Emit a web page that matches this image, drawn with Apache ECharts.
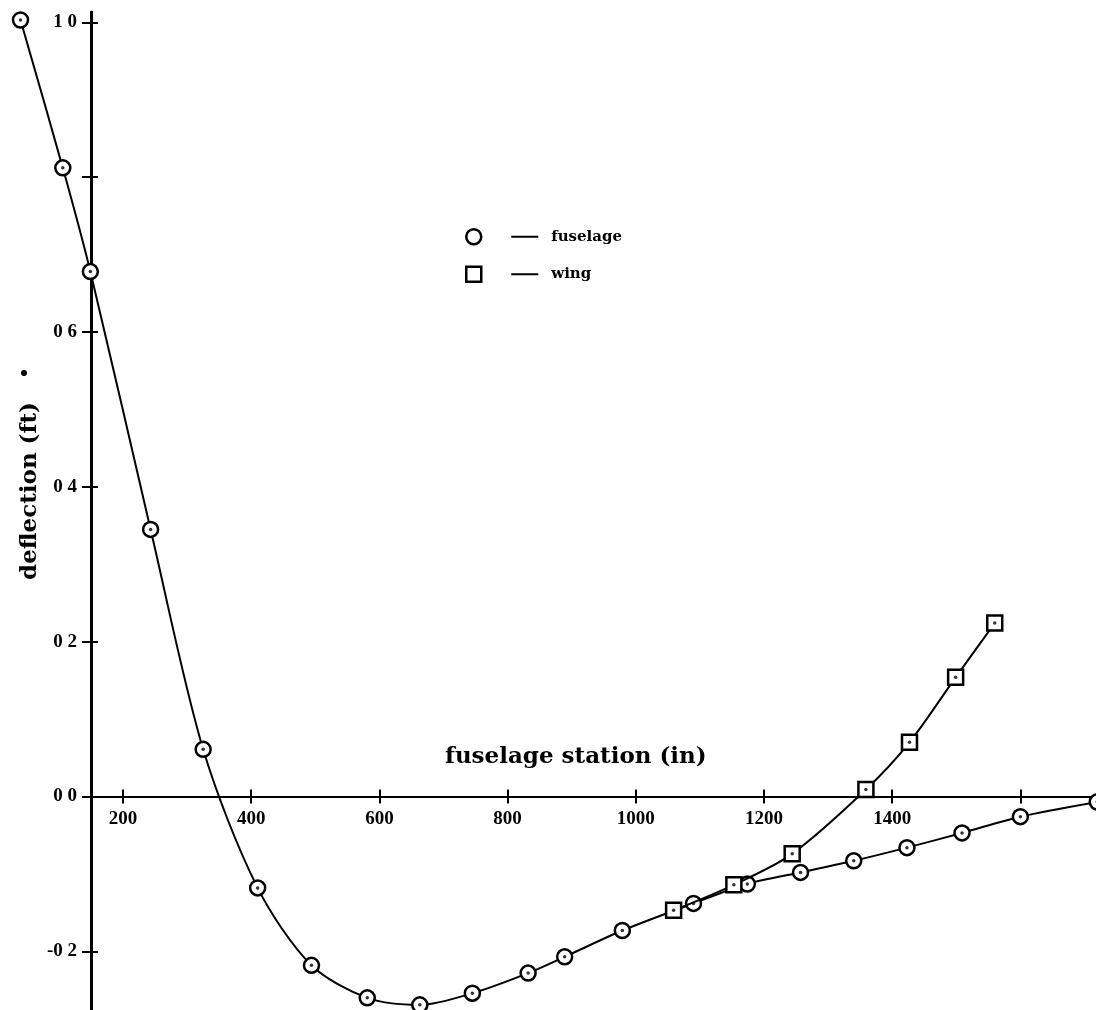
<!DOCTYPE html>
<html>
<head>
<meta charset="utf-8">
<script src="https://cdn.jsdelivr.net/npm/echarts@6/dist/echarts.min.js"></script>
<style>
  html, body { margin: 0; padding: 0; background: #fff; }
  #chart { width: 1096px; height: 1010px; }
</style>
</head>
<body>
<div id="chart"></div>
<script>
// Fuselage deflection along the station line (in, ft)
const fuselageStation = [40, 106, 149, 243, 325, 410, 494, 581, 663, 745, 832, 889, 979, 1090, 1174, 1257, 1340, 1423, 1509, 1600, 1720];
const fuselageDeflection = [1.003, 0.812, 0.678, 0.345, 0.061, -0.118, -0.218, -0.260, -0.269, -0.254, -0.228, -0.207, -0.173, -0.138, -0.113, -0.098, -0.083, -0.066, -0.047, -0.026, -0.007];

// Wing deflection
const wingStation = [1059, 1153, 1244, 1359, 1427, 1499, 1560];
const wingDeflection = [-0.147, -0.114, -0.074, 0.009, 0.070, 0.154, 0.224];

// Axis ticks and labels
const xTickValues = [200, 400, 600, 800, 1000, 1200, 1400, 1600];
const xLabelValues = [200, 400, 600, 800, 1000, 1200, 1400];
const yTickValues = [-0.2, 0, 0.2, 0.4, 0.6, 0.8, 1.0];
const yLabelValues = [-0.2, 0, 0.2, 0.4, 0.6, 1.0];

const pairs = (xs, ys) => xs.map((x, i) => [x, ys[i]]);
const fuselageData = pairs(fuselageStation, fuselageDeflection);
const wingData = pairs(wingStation, wingDeflection);

// Layout: the y axis crosses the station scale at 150 in; stations ahead of it
// are still plotted to its left, so the data grid spans the full canvas.
const CANVAS_W = 1096;
const PLOT_LEFT = 91, PLOT_TOP = 12, PLOT_W = 1005, PLOT_H = 998;
const X_CROSS = 150, X_MAX = 1718;
const Y_MIN = -0.2757, Y_MAX = 1.0133;
const X_FULL_MIN = X_CROSS - PLOT_LEFT * (X_MAX - X_CROSS) / PLOT_W;
const ZERO_H = PLOT_H * Y_MAX / (Y_MAX - Y_MIN);

const INK = '#000';
const tickFont = { fontFamily: '"Liberation Serif", serif', fontWeight: 'bold', fontSize: 19, color: INK };
const titleFont = 'bold 23px "DejaVu Serif", serif';
const tickLine = { color: INK, width: 2 };
const hidden = { show: false };

const chart = echarts.init(document.getElementById('chart'), null, { renderer: 'canvas' });

chart.setOption({
  animation: false,
  backgroundColor: '#fff',
  grid: [
    // 0: data area
    { left: 0, top: PLOT_TOP, width: CANVAS_W, height: PLOT_H, containLabel: false },
    // 1: deflection axis
    { left: PLOT_LEFT, top: PLOT_TOP, width: PLOT_W, height: PLOT_H, containLabel: false },
    // 2: station axis, its bottom edge lying on zero deflection
    { left: PLOT_LEFT, top: PLOT_TOP, width: PLOT_W, height: ZERO_H, containLabel: false }
  ],
  xAxis: [
    { gridIndex: 0, type: 'value', min: X_FULL_MIN, max: X_MAX, show: false },
    { gridIndex: 1, type: 'value', min: X_CROSS, max: X_MAX, show: false },
    {
      gridIndex: 2, type: 'value', min: X_CROSS, max: X_MAX, position: 'bottom',
      splitLine: hidden,
      axisLine: { show: true, onZero: false, lineStyle: { color: INK, width: 2 } },
      axisTick: { show: true, inside: false, length: 7, customValues: xTickValues, lineStyle: tickLine },
      axisLabel: Object.assign({
        show: true, margin: 13, customValues: xLabelValues,
        formatter: v => String(v)
      }, tickFont)
    },
    {
      gridIndex: 2, type: 'value', min: X_CROSS, max: X_MAX, position: 'bottom', offset: 0,
      splitLine: hidden,
      axisLine: { show: false, onZero: false },
      axisTick: { show: true, inside: true, length: 7, customValues: xTickValues, lineStyle: tickLine },
      axisLabel: hidden
    }
  ],
  yAxis: [
    { gridIndex: 0, type: 'value', min: Y_MIN, max: Y_MAX, show: false },
    {
      gridIndex: 1, type: 'value', min: Y_MIN, max: Y_MAX, position: 'left',
      splitLine: hidden,
      axisLine: { show: true, onZero: false, lineStyle: { color: INK, width: 3 } },
      axisTick: { show: true, inside: false, length: 9, customValues: yTickValues, lineStyle: tickLine },
      axisLabel: Object.assign({
        show: true, margin: 14, customValues: yLabelValues,
        formatter: v => v.toFixed(1).replace('.', ' ')
      }, tickFont)
    },
    {
      gridIndex: 1, type: 'value', min: Y_MIN, max: Y_MAX, position: 'left', offset: 0,
      splitLine: hidden,
      axisLine: { show: false, onZero: false },
      axisTick: { show: true, inside: true, length: 7, customValues: yTickValues, lineStyle: tickLine },
      axisLabel: hidden
    },
    { gridIndex: 2, type: 'value', min: 0, max: Y_MAX, show: false }
  ],
  legend: {
    orient: 'vertical',
    left: 465,
    top: 228,
    padding: 0,
    itemWidth: 15,
    itemHeight: 15,
    itemGap: 20,
    itemStyle: { color: '#fff', borderColor: INK, borderWidth: 2.5 },
    data: [
      { name: 'fuselage', icon: 'circle' },
      { name: 'wing', icon: 'rect' }
    ],
    formatter: name => '{g1| }{dash| }{g2| }{txt|' + name + '}',
    textStyle: {
      rich: {
        g1: { width: 25 },
        dash: { width: 27, height: 2, backgroundColor: INK },
        g2: { width: 13 },
        txt: { fontFamily: '"DejaVu Serif", serif', fontWeight: 'bold', fontSize: 15, color: INK }
      }
    }
  },
  graphic: [
    {
      type: 'text', left: 445, top: 746,
      style: { text: 'fuselage station (in)', font: titleFont, fill: INK }
    },
    {
      type: 'text', x: 30, y: 491, rotation: Math.PI / 2,
      style: { text: 'deflection (ft)', font: titleFont, fill: INK, textAlign: 'center', textVerticalAlign: 'middle' }
    },
    {
      type: 'circle', shape: { cx: 24, cy: 373, r: 3 }, style: { fill: INK }
    }
  ],
  series: [
    {
      name: 'fuselage',
      type: 'line',
      xAxisIndex: 0, yAxisIndex: 0,
      data: fuselageData,
      smooth: 0.3,
      clip: false,
      symbol: 'circle',
      symbolSize: 15,
      lineStyle: { color: INK, width: 2 },
      itemStyle: { color: '#fff', borderColor: INK, borderWidth: 2.5 },
      z: 3
    },
    {
      name: 'wing',
      type: 'line',
      xAxisIndex: 0, yAxisIndex: 0,
      data: wingData,
      smooth: 0.3,
      clip: false,
      symbol: 'rect',
      symbolSize: 15,
      lineStyle: { color: INK, width: 2 },
      itemStyle: { color: '#fff', borderColor: INK, borderWidth: 2.5 },
      z: 4
    },
    {
      type: 'scatter',
      xAxisIndex: 0, yAxisIndex: 0,
      data: fuselageData.concat(wingData),
      clip: false,
      symbol: 'circle',
      symbolSize: 3.5,
      itemStyle: { color: INK },
      silent: true,
      z: 5
    }
  ]
});
</script>
</body>
</html>
